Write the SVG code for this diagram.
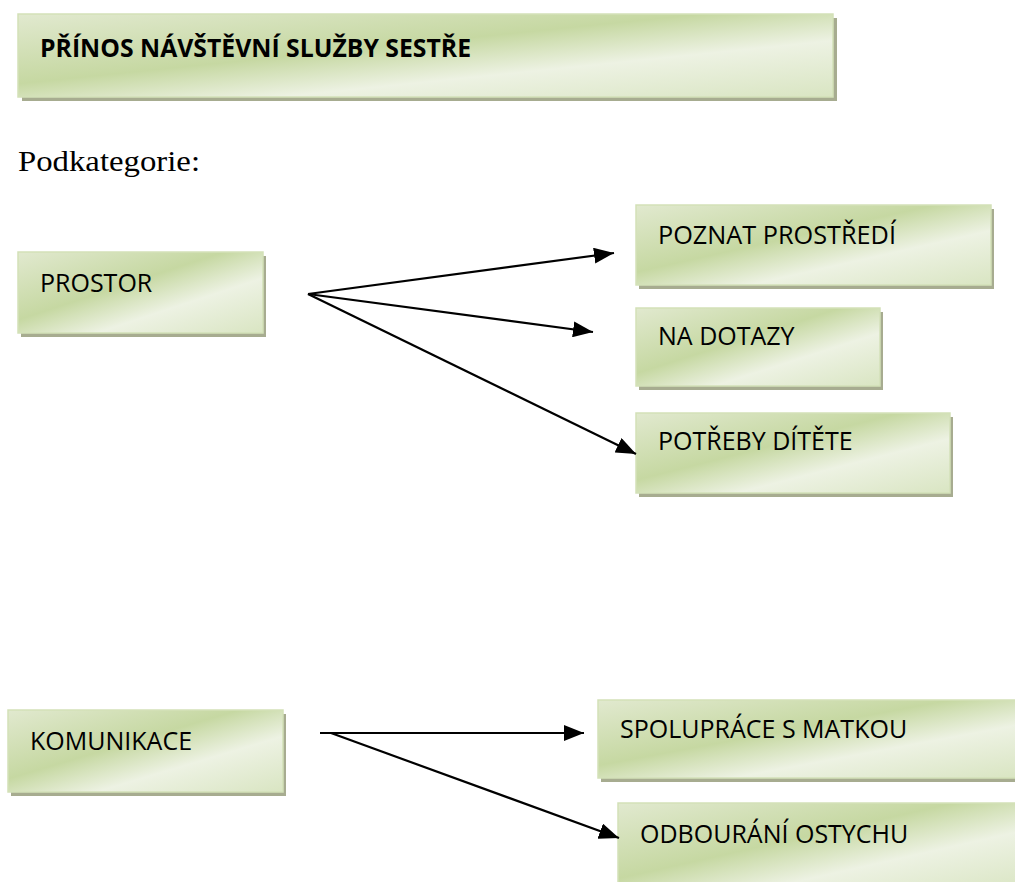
<svg xmlns="http://www.w3.org/2000/svg" width="1015" height="882" viewBox="0 0 1015 882">
  <defs>
    <!-- soft green fill with a light diagonal sheen -->
    <linearGradient id="greenFill" x1="0" y1="0" x2="1" y2="1">
      <stop offset="0" stop-color="#e1e9cf"/>
      <stop offset="0.42" stop-color="#c6d8a2"/>
      <stop offset="0.66" stop-color="#edf2e3"/>
      <stop offset="1" stop-color="#d9e5c2"/>
    </linearGradient>
    <marker id="arrowHead" markerUnits="userSpaceOnUse" markerWidth="22" markerHeight="16" refX="20" refY="8" orient="auto">
      <path d="M0,0 L20,8 L0,16 z" fill="#000"/>
    </marker>
  </defs>
  <style>
    .shadow { fill: #a7ac90; }
    .box { fill: url(#greenFill); stroke: #d3e1b8; stroke-width: 1.5; }
    .label { font-family: "Open Sans", "Noto Sans", "DejaVu Sans", sans-serif; font-size: 25px; fill: #000; }
    .title { font-weight: bold; }
    .plain { font-family: "Liberation Serif", "Times New Roman", serif; font-size: 30px; fill: #000; }
    .link { stroke: #000; stroke-width: 2.2; fill: none; marker-end: url(#arrowHead); }
  </style>

  <rect width="1015" height="882" fill="#fff"/>

  <g id="title">
    <rect class="shadow" x="22" y="18" width="815" height="83"/>
    <rect class="box" x="18" y="14" width="815" height="83"/>
    <text class="label title" x="40" y="57" font-size="26" textLength="431" lengthAdjust="spacingAndGlyphs">PŘÍNOS NÁVŠTĚVNÍ SLUŽBY SESTŘE</text>
  </g>

  <text id="subheading" class="plain" x="18" y="171" textLength="182" lengthAdjust="spacingAndGlyphs">Podkategorie:</text>

  <g id="prostor">
    <rect class="shadow" x="21" y="256" width="245" height="81"/>
    <rect class="box" x="18" y="252" width="245" height="81"/>
    <text class="label" x="40" y="292">PROSTOR</text>
  </g>

  <g id="poznat-prostredi">
    <rect class="shadow" x="639" y="209" width="355" height="80"/>
    <rect class="box" x="636" y="205" width="355" height="80"/>
    <text class="label" x="658" y="244" textLength="238" lengthAdjust="spacingAndGlyphs">POZNAT PROSTŘEDÍ</text>
  </g>

  <g id="na-dotazy">
    <rect class="shadow" x="639" y="312" width="244" height="78"/>
    <rect class="box" x="636" y="308" width="244" height="78"/>
    <text class="label" x="658" y="345">NA DOTAZY</text>
  </g>

  <g id="potreby-ditete">
    <rect class="shadow" x="639" y="417" width="314" height="80"/>
    <rect class="box" x="636" y="413" width="314" height="80"/>
    <text class="label" x="658" y="450">POTŘEBY DÍTĚTE</text>
  </g>

  <g id="komunikace">
    <rect class="shadow" x="11" y="714" width="275" height="82"/>
    <rect class="box" x="8" y="710" width="275" height="82"/>
    <text class="label" x="30" y="750">KOMUNIKACE</text>
  </g>

  <g id="spoluprace">
    <rect class="shadow" x="601" y="704" width="420" height="78"/>
    <rect class="box" x="598" y="700" width="420" height="78"/>
    <text class="label" x="620" y="738">SPOLUPRÁCE S MATKOU</text>
  </g>

  <g id="odbourani">
    <rect class="shadow" x="621" y="807" width="400" height="90"/>
    <rect class="box" x="618" y="803" width="400" height="90"/>
    <text class="label" x="640" y="843">ODBOURÁNÍ OSTYCHU</text>
  </g>

  <g id="connectors">
    <line class="link" x1="308" y1="294" x2="614" y2="253"/>
    <line class="link" x1="308" y1="294" x2="593" y2="332"/>
    <line class="link" x1="308" y1="294" x2="636" y2="454"/>
    <line class="link" x1="320" y1="733" x2="584" y2="733"/>
    <line class="link" x1="331" y1="733" x2="619" y2="838"/>
  </g>
</svg>
